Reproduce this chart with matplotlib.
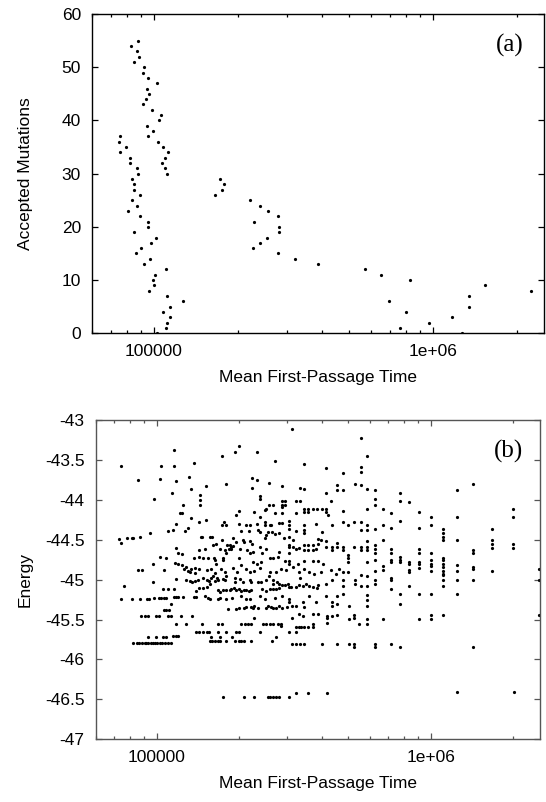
import numpy as np
import matplotlib
matplotlib.use("Agg")
import matplotlib.pyplot as plt
from matplotlib.ticker import FixedLocator, FixedFormatter, LogLocator, NullFormatter

plt.rcParams['font.family'] = ['Liberation Sans', 'DejaVu Sans']
plt.rcParams['axes.unicode_minus'] = False

# ---------------- panel (a): accepted mutations vs MFPT ----------------
mfpt_a = [
    87700, 82800, 87300, 88700, 85100, 92200, 91500, 95500, 103000, 94600,
    96100, 93600, 91300, 98400, 106400, 104000, 94300, 99400,
    75900, 95500, 75000, 103100, 79600, 107900, 75500, 112200, 81800, 109700,
    81800, 106600, 87300, 109400, 87500, 111200,
    83800, 172900, 84700, 178700, 84700, 174700, 89500, 165800, 83500, 221800,
    87300, 239400, 80800, 255600, 88900, 278400, 95500, 228600, 95300, 280000,
    85100, 281000, 101700, 255300, 98000, 239400, 89800, 226000, 86100, 279300,
    96700, 320100, 91800, 388800, 110200, 569000, 101000, 652800, 99100, 824400,
    100000, 1535000, 95900, 2244000, 111400, 1346000, 127100, 696000,
    114000, 1346000, 107900, 800000, 114200, 1167000, 111700, 967000,
    110400, 762000, 102600, 1268000,
]
mutations_a = [
    55, 54, 53, 52, 51, 50, 49, 48, 47, 46,
    45, 44, 43, 42, 41, 40, 39, 38,
    37, 37, 36, 36, 35, 35, 34, 34, 33, 33,
    32, 32, 31, 31, 30, 30,
    29, 29, 28, 28, 27, 27, 26, 26, 25, 25,
    24, 24, 23, 23, 22, 22, 21, 21, 20, 20,
    19, 19, 18, 18, 17, 17, 16, 16, 15, 15,
    14, 14, 13, 13, 12, 12, 11, 11, 10, 10,
    9, 9, 8, 8, 7, 7, 6, 6,
    5, 5, 4, 4, 3, 3, 2, 2,
    1, 1, 0, 0,
]

# ---------------- panel (b): energy vs MFPT ----------------
mfpt_b = [
    # upper-left region
    74100, 85500, 98200, 103000, 104200, 116100, 116100, 117800, 113800, 131200,
    136800, 133000, 125300, 122200, 123600, 133000, 117500, 142900, 130600, 127400,
    109900, 114800, 94400, 73100, 74500, 78200, 81300, 82200, 87300, 117500,
    102800, 108600, 97000, 106400, 85700, 88500, 119700, 123900, 117200, 119700,
    123600, 128500, 125900, 129700, 134000, 137700, 136800, 132700, 137700, 142900,
    142900, 142900, 144900, 146900, 143600, 143600, 143600,
    # lower-left region
    76200, 97000, 117800, 128500, 132100, 134900, 137700, 141600, 139600, 142900,
    105400, 110200, 115900,
    74500, 81500, 86900, 92500, 94000, 97900, 102100, 104200, 106400, 107900,
    115900, 118000, 119700, 124700, 136800, 139000,
    113200, 106200, 108600, 111200,
    88100, 90600, 93100, 99800, 102100, 110200, 113200, 123000, 134900,
    117500, 127600,
    92700, 99800, 105700, 107900, 114800, 117500, 120200,
    82200, 84900, 86300, 88300, 90400, 91800, 93300, 95100, 97000, 99100,
    100700, 102800, 105000, 107400, 110200, 113000,
    139600, 142900,
    # upper-middle region
    311900, 200400, 192800, 233300, 172600, 270400, 345100, 415900, 476400, 222800,
    233300, 179100, 256400, 151400, 222800, 286400, 333400, 345100, 455000, 455000,
    476400, 527200, 415900, 237700, 237700, 322800, 333400, 264800, 257600, 251200,
    248900, 286400, 286400, 286400, 294400, 294400, 199500, 195400, 227500, 238800,
    269800, 286400, 322800, 345100, 345100, 356500, 356500, 370700, 383700, 400900,
    415000, 415000, 420700, 476400, 433500, 151400, 175800, 172600, 179100, 200400,
    212300, 218300, 233300, 249500, 249500, 258200, 261200, 279300, 287100, 303400,
    303400, 303400, 322800, 345900, 345900, 345900, 382800, 400900, 436500, 478600,
    500000, 524800, 203700, 217300, 233900, 239300, 255300, 264200, 270400, 251200,
    248300, 280500, 291100, 303400, 314100, 156300, 158900, 165200, 160700, 173800,
    190100, 195400, 206500, 208400, 218300, 223400, 180700, 184500, 187100, 190100,
    183200, 187100, 200900, 169800, 177000, 178600, 150300, 161400, 163300, 165200,
    174600, 174600, 199500, 214300, 218300, 224400, 237700, 242700, 251200, 224400,
    232300, 241000, 258200, 266700, 279300, 276700, 303400, 303400, 304800, 314100,
    322800, 331900, 345900, 356500, 370700, 382800, 387300, 345900, 356500, 370700,
    387300, 398100, 415000, 415000, 434500, 434500, 453900, 453900, 476400, 476400,
    526000, 500000, 500000, 500000, 295100, 303400, 303400, 314100, 327300, 345900,
    370700, 389000, 403600, 461300, 476400, 500000, 147600, 154200, 152800, 158500,
    162900, 172200, 177000, 190100, 196300, 203700, 212300, 218300, 227500, 237700,
    258200, 272900, 284400, 296500, 331900, 343600, 360600, 375800, 398100, 432500,
    450800,
    # lower-middle region
    147600, 152100, 155200, 158500, 160700, 162900, 166000, 167500, 174600, 177000,
    179500, 147600, 152100, 156300,
    167500, 170600, 174600, 179500, 184500, 187100, 191000, 195400, 199500, 203700,
    207500, 212300, 217300, 221300,
    192800, 192800, 200900, 206500, 218300, 221300, 233900, 241000, 251200, 256400,
    265500, 266700, 274800, 280500, 287100, 295100, 300600, 303400, 309700, 322800,
    331900, 333400, 341200, 350800, 360600, 370700, 383700, 387300, 415000, 436500,
    477500, 477500, 530900, 530900,
    242700, 251200, 258200, 265500, 272900, 280500,
    149600, 154200, 156300, 167500, 170600, 179500, 188800, 203700, 212300, 218300,
    237700, 249500, 269800, 287100, 303400, 303400, 322800,
    360600, 415000, 453900, 477500,
    182000, 195400, 199500, 207500, 212300, 221300, 227500, 224400, 233900, 251200,
    254700, 260600, 266700, 272900, 279300, 287100, 298500, 311200,
    342800, 345900, 381900, 436500, 436500, 453900, 501200,
    227500, 311900,
    331900, 342800, 370700, 387300, 416900, 416900, 436500, 453900, 501200, 526000,
    526000,
    146900, 167500, 173800, 203700, 209400, 215300, 221300, 244300, 251200, 258200,
    265500, 276700, 284400, 283100,
    322800, 330400, 336500, 345900, 355600, 370700, 370700,
    416900, 545800,
    147600, 152100, 155200, 167500, 178600, 195400, 199500, 237700, 303400, 322800,
    158500, 169800, 188800, 271600,
    156300, 159600, 162900, 167500, 170600, 179500, 192800, 199500, 203700, 207500,
    221300, 264200,
    311900, 322800, 333400, 345900, 400900, 453900, 501200, 526000, 526000,
    174600, 208400, 227500, 254700, 259400, 265500, 271600, 279300, 303400,
    322800, 356500, 416900,
    # upper-right region
    555900, 587500, 555900, 555900, 555900, 587500, 626600, 626600, 626600, 587500,
    666800, 714500, 770900, 770900, 833700, 907800, 997700, 997700, 1250000, 1429000,
    1250000, 1995000, 1995000, 555900, 555900, 587500, 587500, 626600, 666800, 714500,
    770900, 907800, 1112000, 1112000, 1112000, 1250000, 1112000, 1675000, 1675000, 1675000,
    1675000, 1995000, 1995000, 555900, 555900, 587500, 587500, 626600, 626600, 626600,
    587500, 666800, 587500, 626600, 714500, 714500, 770900, 770900, 770900, 833700,
    833700, 907800, 907800, 907800, 907800, 997700, 997700, 997700, 1112000, 1112000,
    1112000, 714500, 714500, 1429000, 1429000, 1429000, 1429000, 1250000, 1250000, 1675000,
    666800, 626600, 666800, 833700, 833700, 907800, 997700, 997700, 1112000, 1112000,
    1112000, 2472000,
    # lower-right region
    555900, 587500, 626600, 626600, 555900, 587500, 714500, 714500, 714500, 833700,
    1112000, 1112000, 1112000, 1250000, 1429000, 587500, 587500, 587500, 770900, 907800,
    997700, 1250000, 770900, 587500, 587500, 666800, 907800, 997700, 997700, 1112000,
    626600, 626600, 714500, 770900, 1429000, 1250000, 2009000, 2472000, 2472000,
]
energy_b = [
    # upper-left region
    -43.58, -43.75, -43.99, -43.74, -43.57, -43.37, -43.58, -43.77, -43.91, -43.71,
    -43.54, -43.87, -44.06, -44.16, -44.16, -44.23, -44.30, -44.28, -44.35, -44.39,
    -44.39, -44.38, -44.42, -44.49, -44.54, -44.48, -44.48, -44.48, -44.47, -44.60,
    -44.71, -44.73, -44.80, -44.88, -44.88, -44.88, -44.66, -44.68, -44.79, -44.80,
    -44.82, -44.84, -44.87, -44.89, -44.87, -44.85, -44.73, -44.90, -44.92, -44.63,
    -44.71, -44.87, -44.47, -44.47, -43.94, -44.00, -44.06,
    # lower-left region
    -45.08, -45.03, -44.99, -45.00, -45.02, -45.03, -45.02, -45.00, -45.14, -45.11,
    -45.12, -45.12, -45.12,
    -45.24, -45.24, -45.24, -45.24, -45.24, -45.23, -45.23, -45.23, -45.23, -45.23,
    -45.22, -45.22, -45.22, -45.22, -45.22, -45.22,
    -45.31, -45.38, -45.38, -45.38,
    -45.46, -45.46, -45.46, -45.46, -45.46, -45.46, -45.46, -45.46, -45.46,
    -45.55, -45.55,
    -45.72, -45.72, -45.72, -45.72, -45.71, -45.71, -45.71,
    -45.79, -45.79, -45.79, -45.79, -45.79, -45.79, -45.79, -45.79, -45.79, -45.79,
    -45.79, -45.79, -45.79, -45.79, -45.79, -45.79,
    -45.65, -45.65,
    # upper-middle region
    -43.11, -43.32, -43.40, -43.40, -43.45, -43.51, -43.55, -43.60, -43.66, -43.73,
    -43.75, -43.80, -43.79, -43.83, -43.85, -43.83, -43.85, -43.87, -43.82, -43.88,
    -43.88, -43.80, -43.91, -43.95, -43.99, -44.01, -44.02, -44.06, -44.07, -44.11,
    -44.13, -44.02, -44.06, -44.09, -44.02, -44.06, -44.14, -44.19, -44.15, -44.22,
    -44.17, -44.16, -44.16, -44.12, -44.15, -44.12, -44.15, -44.12, -44.12, -44.12,
    -44.12, -44.15, -44.19, -44.14, -44.02, -44.25, -44.28, -44.32, -44.32, -44.30,
    -44.32, -44.32, -44.30, -44.28, -44.32, -44.31, -44.32, -44.29, -44.29, -44.27,
    -44.32, -44.36, -44.39, -44.32, -44.38, -44.42, -44.30, -44.40, -44.32, -44.28,
    -44.32, -44.28, -44.39, -44.39, -44.38, -44.40, -44.40, -44.40, -44.43, -44.44,
    -44.48, -44.42, -44.48, -44.47, -44.50, -44.47, -44.47, -44.55, -44.57, -44.50,
    -44.48, -44.53, -44.50, -44.53, -44.52, -44.55, -44.57, -44.57, -44.59, -44.58,
    -44.61, -44.62, -44.61, -44.61, -44.63, -44.67, -44.62, -44.73, -44.75, -44.80,
    -44.73, -44.76, -44.73, -44.63, -44.67, -44.65, -44.59, -44.66, -44.61, -44.78,
    -44.80, -44.78, -44.73, -44.73, -44.65, -44.71, -44.56, -44.59, -44.67, -44.59,
    -44.61, -44.60, -44.57, -44.57, -44.57, -44.61, -44.55, -44.63, -44.63, -44.63,
    -44.49, -44.50, -44.52, -44.59, -44.59, -44.63, -44.54, -44.59, -44.59, -44.63,
    -44.59, -44.69, -44.73, -44.78, -44.77, -44.77, -44.81, -44.84, -44.81, -44.77,
    -44.77, -44.77, -44.81, -44.87, -44.90, -44.90, -44.73, -44.73, -44.88, -44.87,
    -44.92, -44.87, -44.90, -44.86, -44.90, -44.82, -44.87, -44.90, -44.89, -44.86,
    -44.90, -44.91, -44.87, -44.88, -44.90, -44.87, -44.90, -44.93, -44.90, -44.88,
    -44.93,
    # lower-middle region
    -44.98, -45.00, -45.02, -44.98, -44.96, -45.02, -44.98, -45.00, -44.99, -45.00,
    -44.96, -45.11, -45.09, -45.05,
    -45.13, -45.15, -45.13, -45.13, -45.13, -45.12, -45.11, -45.13, -45.12, -45.14,
    -45.13, -45.13, -45.14, -45.13,
    -44.98, -45.03, -44.99, -45.03, -45.00, -45.03, -45.03, -45.03, -45.00, -44.96,
    -45.00, -45.05, -45.03, -45.06, -45.07, -45.07, -45.05, -45.09, -45.09, -45.09,
    -45.07, -44.98, -45.08, -45.06, -45.08, -45.09, -45.10, -45.07, -45.06, -45.00,
    -45.00, -45.08, -45.00, -45.06,
    -45.12, -45.14, -45.12, -45.12, -45.12, -45.11,
    -45.21, -45.23, -45.24, -45.24, -45.23, -45.24, -45.23, -45.21, -45.24, -45.24,
    -45.21, -45.24, -45.23, -45.21, -45.24, -45.28, -45.33,
    -45.20, -45.20, -45.20, -45.18,
    -45.37, -45.37, -45.36, -45.35, -45.34, -45.34, -45.33, -45.36, -45.36, -45.36,
    -45.33, -45.34, -45.35, -45.35, -45.33, -45.36, -45.34, -45.33,
    -45.28, -45.34, -45.28, -45.28, -45.33, -45.31, -45.33,
    -45.48, -45.48,
    -45.43, -45.45, -45.43, -45.43, -45.45, -45.48, -45.46, -45.44, -45.49, -45.44,
    -45.48,
    -45.55, -45.55, -45.55, -45.55, -45.55, -45.55, -45.55, -45.55, -45.55, -45.55,
    -45.55, -45.56, -45.56, -45.58,
    -45.59, -45.59, -45.59, -45.59, -45.59, -45.59, -45.56,
    -45.54, -45.55,
    -45.65, -45.65, -45.65, -45.65, -45.65, -45.65, -45.65, -45.65, -45.65, -45.65,
    -45.72, -45.72, -45.72, -45.72,
    -45.77, -45.77, -45.77, -45.77, -45.77, -45.77, -45.77, -45.77, -45.77, -45.77,
    -45.77, -45.77,
    -45.81, -45.81, -45.81, -45.81, -45.81, -45.81, -45.81, -45.81, -45.84,
    -46.47, -46.47, -46.47, -46.47, -46.47, -46.47, -46.47, -46.47, -46.47,
    -46.42, -46.42, -46.42,
    # upper-right region
    -43.23, -43.45, -43.59, -43.65, -43.81, -43.86, -43.88, -43.99, -44.07, -44.12,
    -44.12, -44.17, -43.92, -44.02, -44.03, -44.15, -44.21, -44.31, -43.88, -43.80,
    -44.21, -44.11, -44.21, -44.28, -44.38, -44.31, -44.38, -44.36, -44.31, -44.35,
    -44.27, -44.35, -44.36, -44.41, -44.46, -44.50, -44.50, -44.36, -44.50, -44.55,
    -44.60, -44.55, -44.60, -44.59, -44.63, -44.59, -44.63, -44.57, -44.62, -44.66,
    -44.52, -44.50, -44.78, -44.75, -44.61, -44.67, -44.71, -44.75, -44.78, -44.78,
    -44.80, -44.61, -44.67, -44.78, -44.80, -44.66, -44.75, -44.80, -44.73, -44.75,
    -44.80, -44.75, -44.78, -44.63, -44.66, -44.84, -44.87, -44.82, -44.89, -44.89,
    -44.88, -44.89, -44.83, -44.88, -44.90, -44.86, -44.83, -44.89, -44.84, -44.89,
    -44.93, -44.87,
    # lower-right region
    -44.94, -44.96, -45.00, -45.05, -45.08, -45.08, -44.98, -45.00, -45.12, -45.08,
    -44.94, -45.00, -45.08, -45.00, -45.00, -45.19, -45.26, -45.33, -45.18, -45.18,
    -45.18, -45.18, -45.31, -45.49, -45.55, -45.49, -45.49, -45.49, -45.44, -45.44,
    -45.81, -45.84, -45.81, -45.84, -45.84, -46.41, -46.41, -45.44, -45.00,
]

x_ticks = [100000, 1000000]
x_tick_labels = ["100000", "1e+06"]
y_ticks_a = [0, 10, 20, 30, 40, 50, 60]
y_ticks_b = [-47, -46.5, -46, -45.5, -45, -44.5, -44, -43.5, -43]
y_tick_labels_b = ["-47", "-46.5", "-46", "-45.5", "-45", "-44.5", "-44", "-43.5", "-43"]

fig = plt.figure(figsize=(5.46, 8.02), dpi=100)
ax1 = fig.add_axes([92 / 546, 1 - 333.3 / 802, 452 / 546, 319.3 / 802])
ax2 = fig.add_axes([95.7 / 546, 1 - 739.3 / 802, 444.3 / 546, 319.3 / 802])

FS = 12.5


def style(ax, spine_color):
    ax.set_xscale('log')
    ax.set_xlim(60000, 2500000)
    ax.xaxis.set_major_locator(FixedLocator(x_ticks))
    ax.xaxis.set_major_formatter(FixedFormatter(x_tick_labels))
    ax.xaxis.set_minor_locator(LogLocator(base=10, subs=np.arange(2, 10), numticks=20))
    ax.xaxis.set_minor_formatter(NullFormatter())
    for sp in ax.spines.values():
        sp.set_color(spine_color)
        sp.set_linewidth(1.0)
    ax.tick_params(which='both', direction='in', top=True, right=True,
                   color=spine_color, labelsize=FS, width=0.9)
    ax.tick_params(which='major', length=4.5)
    ax.tick_params(which='minor', length=2.5)
    ax.tick_params(axis='y', pad=8)
    ax.tick_params(axis='x', pad=8)
    ax.set_xlabel('Mean First-Passage Time', fontsize=FS)


ax1.plot(mfpt_a, mutations_a, 'o', color='black', ms=2.3, mew=0, clip_on=True)
style(ax1, 'black')
ax1.set_ylim(0, 60)
ax1.yaxis.set_major_locator(FixedLocator(y_ticks_a))
ax1.set_ylabel('Accepted Mutations', fontsize=FS)
ax1.yaxis.set_label_coords(-0.131, 0.5)
ax1.xaxis.set_label_coords(0.5, -0.115)
ax1.text(0.925, 0.90, '(a)', transform=ax1.transAxes, ha='center', va='center',
         fontsize=18, family=['Liberation Serif', 'DejaVu Serif'])

ax2.plot(mfpt_b, energy_b, 'o', color='black', ms=2.3, mew=0, clip_on=True)
style(ax2, '#555555')
ax2.set_ylim(-47, -43)
ax2.yaxis.set_major_locator(FixedLocator(y_ticks_b))
ax2.yaxis.set_major_formatter(FixedFormatter(y_tick_labels_b))
ax2.set_ylabel('Energy', fontsize=FS)
ax2.yaxis.set_label_coords(-0.142, 0.5)
ax2.xaxis.set_label_coords(0.5, -0.115)
ax2.text(0.930, 0.90, '(b)', transform=ax2.transAxes, ha='center', va='center',
         fontsize=18, family=['Liberation Serif', 'DejaVu Serif'])

fig.savefig('out.png', dpi=100)
